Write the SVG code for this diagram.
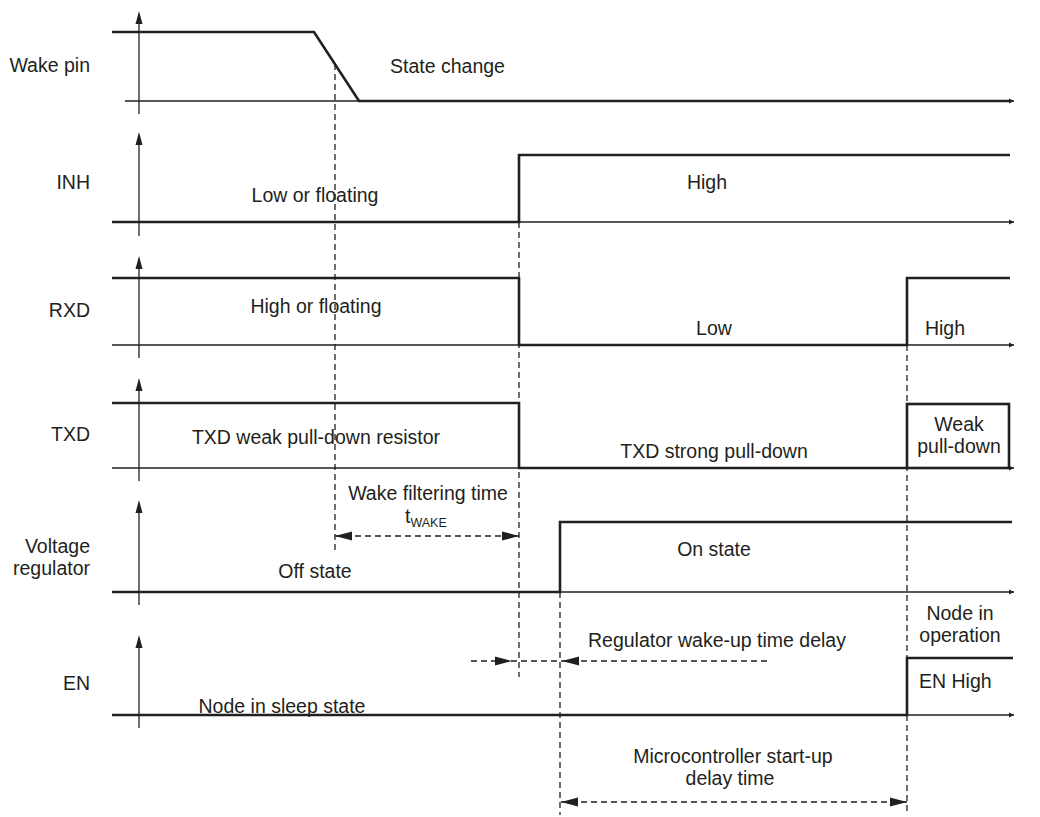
<svg xmlns="http://www.w3.org/2000/svg" width="1040" height="817" viewBox="0 0 1040 817">
<style>
text{font-family:"Liberation Sans",Arial,sans-serif;font-size:19.5px;fill:#231f20}
.sig{fill:none;stroke:#231f20;stroke-width:2.6;stroke-linejoin:miter}
.ax{fill:none;stroke:#231f20;stroke-width:1.3}
.dash{fill:none;stroke:#231f20;stroke-width:1.3;stroke-dasharray:6,4}
.head{fill:#231f20}
.mid{text-anchor:middle}
.end{text-anchor:end}
.sub{font-size:12.5px}
</style>
<defs>
<marker id="xa" markerWidth="6" markerHeight="6" refX="5" refY="3" orient="auto" markerUnits="userSpaceOnUse"><path d="M0,0.5 L5,3 L0,5.5 Z" fill="#231f20"/></marker>
<marker id="da" markerWidth="18" markerHeight="10" refX="17" refY="5" orient="auto-start-reverse" markerUnits="userSpaceOnUse"><path d="M0,0.5 L17,5 L0,9.5 Z" fill="#231f20"/></marker>
<path id="yh" d="M-3.5,13 L0,0 L3.5,13 Z"/>
</defs>
<g id="connectors">
<!-- y axes -->
<path class="ax" d="M139,114 V20"/>
<use href="#yh" class="head" x="139" y="11"/>
<path class="ax" d="M139,236 V140"/>
<use href="#yh" class="head" x="139" y="132"/>
<path class="ax" d="M139,358 V264"/>
<use href="#yh" class="head" x="139" y="256"/>
<path class="ax" d="M139,481 V386"/>
<use href="#yh" class="head" x="139" y="378"/>
<path class="ax" d="M139,605 V508"/>
<use href="#yh" class="head" x="139" y="500"/>
<path class="ax" d="M139,728 V643"/>
<use href="#yh" class="head" x="139" y="635"/>
<!-- x axes -->
<path class="ax" d="M125,101 H1014" marker-end="url(#xa)"/>
<path class="ax" d="M112,222 H1014" marker-end="url(#xa)"/>
<path class="ax" d="M112,345 H1014" marker-end="url(#xa)"/>
<path class="ax" d="M112,468 H1014" marker-end="url(#xa)"/>
<path class="ax" d="M112,592 H1014" marker-end="url(#xa)"/>
<path class="ax" d="M112,715 H1014" marker-end="url(#xa)"/>
<!-- dashed verticals -->
<path class="dash" d="M335,64 V550"/>
<path class="dash" d="M519,222 V677"/>
<path class="dash" d="M560,592 V815"/>
<path class="dash" d="M907,345 V815"/>
<!-- dimension arrows -->
<path class="dash" d="M335,536 H519" marker-start="url(#da)" marker-end="url(#da)"/>
<path class="dash" d="M471,661 H770"/>
<path class="head" d="M495,656.5 L512,661 L495,665.5 Z"/>
<path class="head" d="M579,656.5 L562,661 L579,665.5 Z"/>
<path class="dash" d="M561,802 H907" marker-start="url(#da)" marker-end="url(#da)"/>
</g>
<g id="wake-pin">
<path class="sig" d="M112,32 H314 L359,101 H1010"/>
<text class="end" x="90" y="72">Wake pin</text>
<text x="390" y="73">State change</text>
</g>
<g id="inh">
<path class="sig" d="M112,222 H519 V155 H1010"/>
<text class="end" x="90" y="189">INH</text>
<text class="mid" x="315" y="202">Low or floating</text>
<text class="mid" x="707" y="189">High</text>
</g>
<g id="rxd">
<path class="sig" d="M112,278 H519 V345 H907 V278 H1010"/>
<text class="end" x="90" y="317">RXD</text>
<text class="mid" x="316" y="313">High or floating</text>
<text class="mid" x="714" y="335">Low</text>
<text class="mid" x="945" y="335">High</text>
</g>
<g id="txd">
<path class="sig" d="M112,403 H519 V468 H907"/>
<rect class="sig" x="907" y="404" width="102" height="64"/>
<text class="end" x="90" y="441">TXD</text>
<text class="mid" x="316" y="444">TXD weak pull-down resistor</text>
<text class="mid" x="714" y="458">TXD strong pull-down</text>
<text class="mid" x="959" y="431">Weak</text>
<text class="mid" x="959" y="453">pull-down</text>
</g>
<g id="voltage-regulator">
<path class="sig" d="M112,592 H560 V522 H1012"/>
<text class="end" x="90" y="553">Voltage</text>
<text class="end" x="90" y="575">regulator</text>
<text class="mid" x="315" y="578">Off state</text>
<text class="mid" x="714" y="556">On state</text>
<text class="mid" x="428" y="500">Wake filtering time</text>
<text x="405" y="523">t<tspan class="sub" dy="4">WAKE</tspan></text>
</g>
<g id="en">
<path class="sig" d="M112,715 H907 V658 H1013"/>
<text class="end" x="90" y="690">EN</text>
<text class="mid" x="282" y="713">Node in sleep state</text>
<text class="mid" x="960" y="620">Node in</text>
<text class="mid" x="960" y="642">operation</text>
<text x="919" y="688">EN High</text>
<text x="588" y="647">Regulator wake-up time delay</text>
<text class="mid" x="733" y="763">Microcontroller start-up</text>
<text class="mid" x="730" y="785">delay time</text>
</g>
</svg>
